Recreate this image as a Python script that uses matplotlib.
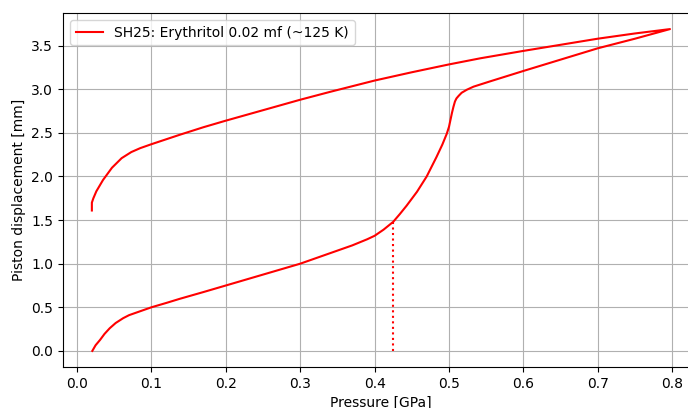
import matplotlib
matplotlib.use("Agg")
import matplotlib.pyplot as plt

# Loading branch
p_load = [0.0206, 0.025, 0.031, 0.037, 0.044, 0.052, 0.062, 0.070, 0.080, 0.090,
          0.100, 0.120, 0.138, 0.170, 0.200, 0.250, 0.300, 0.340, 0.370, 0.390,
          0.400, 0.412, 0.425, 0.434, 0.443, 0.457, 0.470, 0.483, 0.491, 0.497,
          0.500, 0.502, 0.504, 0.506, 0.508, 0.510, 0.513, 0.517, 0.524, 0.533,
          0.555, 0.600, 0.650, 0.700, 0.750, 0.797]
d_load = [0.000, 0.065, 0.126, 0.195, 0.260, 0.320, 0.375, 0.410, 0.440, 0.470,
          0.500, 0.550, 0.597, 0.675, 0.750, 0.875, 1.000, 1.120, 1.210, 1.280,
          1.320, 1.390, 1.480, 1.570, 1.665, 1.825, 2.000, 2.220, 2.365, 2.490,
          2.570, 2.650, 2.730, 2.800, 2.860, 2.895, 2.925, 2.960, 2.995, 3.030,
          3.090, 3.210, 3.340, 3.470, 3.580, 3.690]
# Unloading branch
p_unload = [0.797, 0.750, 0.700, 0.650, 0.600, 0.542, 0.500, 0.450, 0.400, 0.340,
            0.300, 0.250, 0.200, 0.170, 0.138, 0.100, 0.085, 0.073, 0.060, 0.047,
            0.035, 0.026, 0.022, 0.020, 0.020]
d_unload = [3.690, 3.640, 3.580, 3.510, 3.440, 3.355, 3.285, 3.195, 3.100, 2.970,
            2.880, 2.760, 2.640, 2.565, 2.478, 2.370, 2.325, 2.280, 2.210, 2.100,
            1.960, 1.830, 1.750, 1.700, 1.610]

# Transition marker
p_mark = [0.425, 0.425]
d_mark = [0.0, 1.48]

label = "SH25: Erythritol 0.02 mf (~125 K)"

fig = plt.figure(figsize=(6.88, 4.08), dpi=100)
ax = fig.add_axes([63/688, 41/408, 636/688, 354/408])

ax.plot(p_load + p_unload[1:], d_load + d_unload[1:], color="red", lw=1.5, label=label)
ax.plot(p_mark, d_mark, color="red", lw=1.5, ls=":")

ax.set_xlim(-0.0188, 0.836)
ax.set_ylim(-0.1845, 3.8745)
ax.set_xticks([0.0, 0.1, 0.2, 0.3, 0.4, 0.5, 0.6, 0.7, 0.8])
ax.set_xlabel("Pressure [GPa]")
ax.set_ylabel("Piston displacement [mm]")
ax.grid(True)
ax.legend(loc="upper left")

fig.savefig("out.png", dpi=100)
